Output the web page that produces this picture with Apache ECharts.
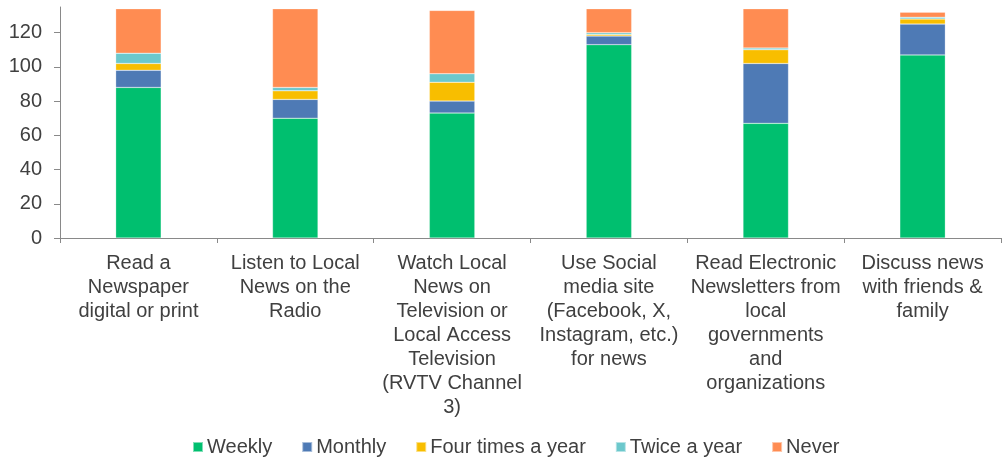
<!DOCTYPE html>
<html><head><meta charset="utf-8">
<script src="https://cdn.jsdelivr.net/npm/echarts@6/dist/echarts.min.js"></script>
<style>html,body{margin:0;padding:0;background:#fff}#c{width:1002px;height:458px}</style>
</head><body><div id="c"></div>
<script>
var categories = [
  "Read a\nNewspaper\ndigital or print",
  "Listen to Local\nNews on the\nRadio",
  "Watch Local\nNews on\nTelevision or\nLocal Access\nTelevision\n(RVTV Channel\n3)",
  "Use Social\nmedia site\n(Facebook, X,\nInstagram, etc.)\nfor news",
  "Read Electronic\nNewsletters from\nlocal\ngovernments\nand\norganizations",
  "Discuss news\nwith friends &\nfamily"
];
var weekly = [88, 70, 73, 113, 67, 107];
var monthly = [10, 11, 7, 5, 35, 18];
var fourTimes = [4, 5, 11, 1, 8, 3];
var twice = [6, 2, 5, 1, 1, 1];
var never = [26, 46, 37, 14, 23, 3];
var seriesNames = ["Weekly", "Monthly", "Four times a year", "Twice a year", "Never"];
var colors = ["#00BF6F", "#4E7AB5", "#F8BE00", "#6CC8CC", "#FF8C52"];
var yTicks = {min: 0, max: 135, interval: 20};

var font = "'Liberation Sans', Arial, sans-serif";
var data = [weekly, monthly, fourTimes, twice, never];
var series = seriesNames.map(function(n, i){
  return {name: n, type: 'bar', stack: 'a', data: data[i], barWidth: '29%',
    itemStyle: {color: colors[i], borderColor: 'rgba(255,255,255,0.5)', borderWidth: 0.5}};
});
var chart = echarts.init(document.getElementById('c'));
chart.setOption({
  animation: false,
  textStyle: {fontFamily: font},
  grid: {left: 60, right: 1, top: 7, bottom: 220, containLabel: false},
  legend: {top: 437, left: 192, padding: 0, itemWidth: 10, itemHeight: 10, itemGap: 29,
    icon: 'rect', textStyle: {fontSize: 20, color: '#404040', fontFamily: font, padding: [0, 0, 0, -1]}},
  xAxis: {type: 'category', data: categories, boundaryGap: true,
    axisLine: {lineStyle: {color: '#898989', width: 1}},
    axisTick: {show: true, length: 5, lineStyle: {color: '#898989'}},
    axisLabel: {interval: 0, fontSize: 20, lineHeight: 24, color: '#404040', margin: 13, fontFamily: font}},
  yAxis: {type: 'value', min: yTicks.min, max: yTicks.max, interval: yTicks.interval,
    splitLine: {show: false},
    axisLine: {show: true, lineStyle: {color: '#898989', width: 1}},
    axisTick: {show: true, length: 6, lineStyle: {color: '#898989'}},
    axisLabel: {fontSize: 20, color: '#404040', margin: 18, showMaxLabel: false, fontFamily: font}},
  series: series
});
</script></body></html>
